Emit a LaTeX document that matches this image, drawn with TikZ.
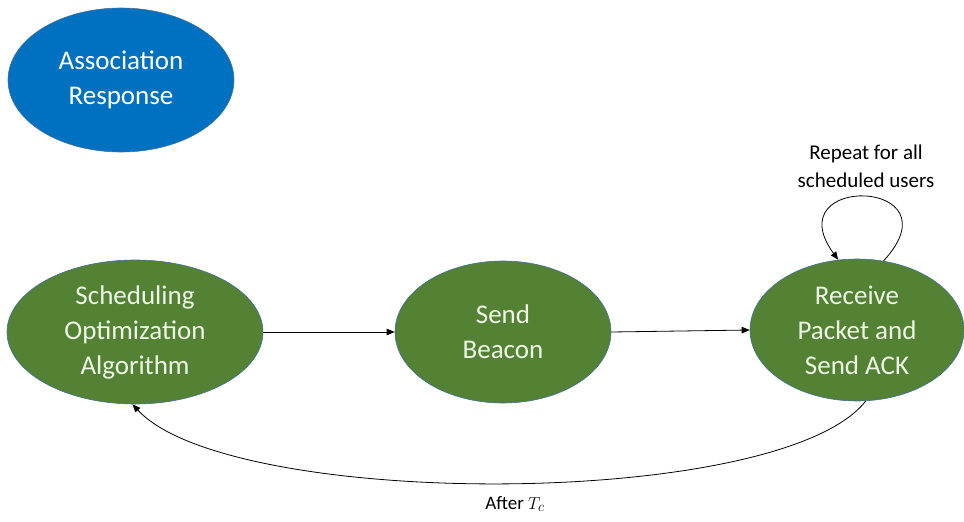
\documentclass[tikz,border=0pt]{standalone}
\usepackage{fontspec}
\setmainfont{Carlito}
\usetikzlibrary{shapes.geometric,arrows.meta}
\definecolor{stategreen}{HTML}{548235}
\definecolor{stateblue}{HTML}{0070C0}
\definecolor{edgeblue}{HTML}{41719C}
\definecolor{lighttext}{HTML}{EEF6E6}
\begin{document}
\begin{tikzpicture}[x=1pt,y=-1pt,
  state/.style={ellipse, fill=stategreen, draw=edgeblue, line width=0.6pt,
    text=lighttext, align=center, inner sep=0pt,
    font=\fontsize{27}{35}\selectfont},
  startstate/.style={state, fill=stateblue, text=white},
  arr/.style={line width=0.8pt, -{Triangle[length=8pt,width=6.5pt]}},
  note/.style={align=center, inner sep=0pt, text=black}]
\useasboundingbox (0,0) rectangle (964,522);

\node[startstate, minimum width=226pt, minimum height=144pt] (assoc) at (121,80)
  {Association\\Response};
\node[state, minimum width=256pt, minimum height=144pt] (sched) at (135,332)
  {Scheduling\\Optimization\\Algorithm};
\node[state, minimum width=216pt, minimum height=142pt] (beacon) at (503,332)
  {Send\\Beacon};
\node[state, minimum width=214pt, minimum height=142pt] (recv) at (857,330)
  {Receive\\Packet and\\Send ACK};

% forward chain
\draw[arr] (sched.east) -- (beacon.west);
\draw[arr] (beacon.east) -- (recv.west);

% self loop over the receive state
\draw[arr] (recv.69) .. controls (960,178) and (775,173) .. (recv.105);
\node[note, font=\fontsize{21}{28}\selectfont] (rep) at (866,166)
  {Repeat for all\\scheduled users};

% return path after the cycle time
\draw[arr] (recv.-83) .. controls (780,510) and (230,510) .. (sched.-92);
\node[note, font=\fontsize{19}{23}\selectfont] (after) at (515,504) {After $T_c$};
\end{tikzpicture}
\end{document}
